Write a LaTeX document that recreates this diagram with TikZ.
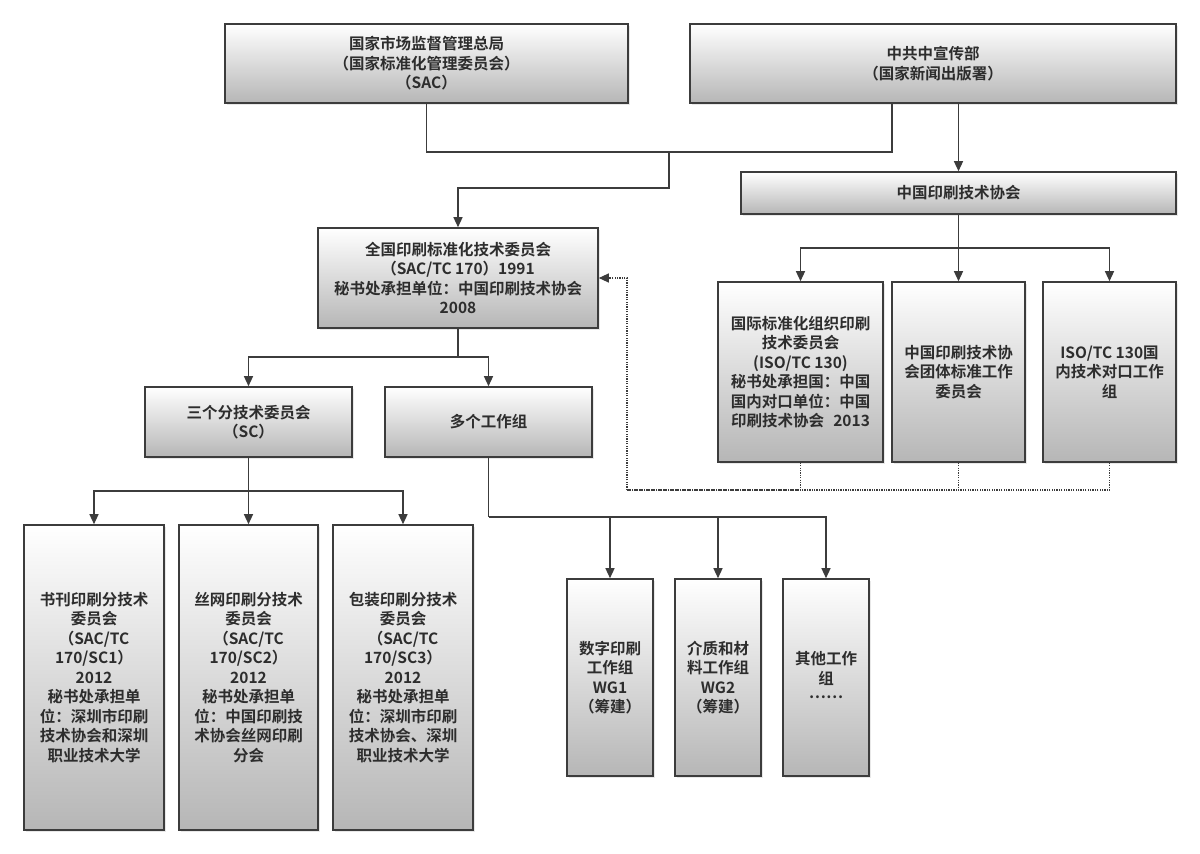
\documentclass[tikz,border=0pt]{standalone}
\usepackage{fontspec}
\setmainfont{Noto Sans CJK SC}[BoldFont={Noto Sans CJK SC Bold}]
\usetikzlibrary{arrows.meta,shadows}
\definecolor{boxline}{RGB}{60,60,60}
\definecolor{boxbot}{RGB}{182,182,182}
\definecolor{txt}{RGB}{45,45,45}
\begin{document}
\begin{tikzpicture}[x=1pt,y=-1pt,
  orgbox/.style={draw=boxline,line width=1.6pt,top color=white,bottom color=boxbot,
    drop shadow={opacity=0.18,shadow xshift=1.5pt,shadow yshift=-1.5pt},
    align=center,inner sep=2pt,text=txt,
    font=\fontsize{15.5}{19.5}\selectfont\bfseries},
  conn/.style={draw=boxline,line width=1.3pt},
  arr/.style={conn,-{Triangle[length=10pt,width=9pt]}},
  dotline/.style={draw=boxline,line width=1.1pt,dash pattern=on 1.2pt off 1.2pt},
  dotarr/.style={dotline,-{Triangle[length=10pt,width=9pt]}}]
\useasboundingbox (0,0) rectangle (1200,854);
\fill[white] (0,0) rectangle (1200,854);

% top level
\node[orgbox,minimum width=403pt,minimum height=79pt] (sac) at (426.5,63.5)
  {国家市场监督管理总局\\（国家标准化管理委员会）\\（SAC）};
\node[orgbox,minimum width=486pt,minimum height=79pt] (xcb) at (933,63.5)
  {中共中宣传部\\（国家新闻出版署）};
\node[orgbox,minimum width=435pt,minimum height=42pt] (xh) at (958.5,193)
  {中国印刷技术协会};
\node[orgbox,minimum width=280pt,minimum height=100pt] (qg) at (458,278)
  {全国印刷标准化技术委员会\\（SAC/TC 170）1991\\秘书处承担单位：中国印刷技术协会\\2008};

% right branch
\node[orgbox,minimum width=165pt,minimum height=180pt] (iso) at (800.5,372)
  {国际标准化组织印刷\\技术委员会\\(ISO/TC 130)\\秘书处承担国：中国\\国内对口单位：中国\\印刷技术协会\hspace{0.6em}2013};
\node[orgbox,minimum width=133pt,minimum height=180pt] (tt) at (958.5,372)
  {中国印刷技术协\\会团体标准工作\\委员会};
\node[orgbox,minimum width=133pt,minimum height=180pt] (dk) at (1109.5,372)
  {ISO/TC 130国\\内技术对口工作\\组};

% second level
\node[orgbox,minimum width=207pt,minimum height=70pt] (sc) at (248.5,422)
  {三个分技术委员会\\（SC）};
\node[orgbox,minimum width=207pt,minimum height=70pt] (wg) at (488.5,422)
  {多个工作组};

% subcommittees
\node[orgbox,minimum width=140pt,minimum height=305pt] (s1) at (94,677.5)
  {书刊印刷分技术\\委员会\\（SAC/TC\\170/SC1）\\2012\\秘书处承担单\\位：深圳市印刷\\技术协会和深圳\\职业技术大学};
\node[orgbox,minimum width=139pt,minimum height=305pt] (s2) at (248.5,677.5)
  {丝网印刷分技术\\委员会\\（SAC/TC\\170/SC2）\\2012\\秘书处承担单\\位：中国印刷技\\术协会丝网印刷\\分会};
\node[orgbox,minimum width=140pt,minimum height=305pt] (s3) at (403,677.5)
  {包装印刷分技术\\委员会\\（SAC/TC\\170/SC3）\\2012\\秘书处承担单\\位：深圳市印刷\\技术协会、深圳\\职业技术大学};

% working groups
\node[orgbox,minimum width=86pt,minimum height=197pt] (w1) at (610,677.5)
  {数字印刷\\工作组\\WG1\\（筹建）};
\node[orgbox,minimum width=86pt,minimum height=197pt] (w2) at (718,677.5)
  {介质和材\\料工作组\\WG2\\（筹建）};
\node[orgbox,minimum width=86pt,minimum height=197pt] (w3) at (826,677.5)
  {其他工作\\组\\\raisebox{0.3em}{……}};

% junction coordinates
\coordinate (j1) at (669,152);
\coordinate (xb) at (892,103);
\coordinate (j1b) at (669,188);
\coordinate (j2) at (958.5,248);
\coordinate (j3) at (458,357);
\coordinate (j4) at (248.5,491);
\coordinate (j5) at (488.5,517);
\coordinate (d0) at (627,490);

% connectors
\draw[conn] (sac.south) |- (j1) -| (xb);
\draw[arr] (j1) -- (j1b) -| (qg.north);
\draw[arr] (xcb.south -| xh.north) -- (xh.north);
\draw[conn] (xh.south) -- (j2);
\draw[arr] (j2) -| (iso.north);
\draw[arr] (j2) -- (tt.north);
\draw[arr] (j2) -| (dk.north);
\draw[conn] (qg.south) -- (j3);
\draw[arr] (j3) -| (sc.north);
\draw[arr] (j3) -| (wg.north);
\draw[conn] (sc.south) -- (j4);
\draw[arr] (j4) -| (s1.north);
\draw[arr] (j4) -- (s2.north);
\draw[arr] (j4) -| (s3.north);
\draw[conn] (wg.south) |- (j5);
\draw[arr] (j5) -| (w1.north);
\draw[arr] (j5) -| (w2.north);
\draw[arr] (j5) -| (w3.north);

% dotted feedback
\draw[dotline] (iso.south) |- (d0);
\draw[dotline] (tt.south) |- (d0);
\draw[dotline] (dk.south) |- (d0);
\draw[dotarr] (d0) |- (qg.east);
\end{tikzpicture}
\end{document}
